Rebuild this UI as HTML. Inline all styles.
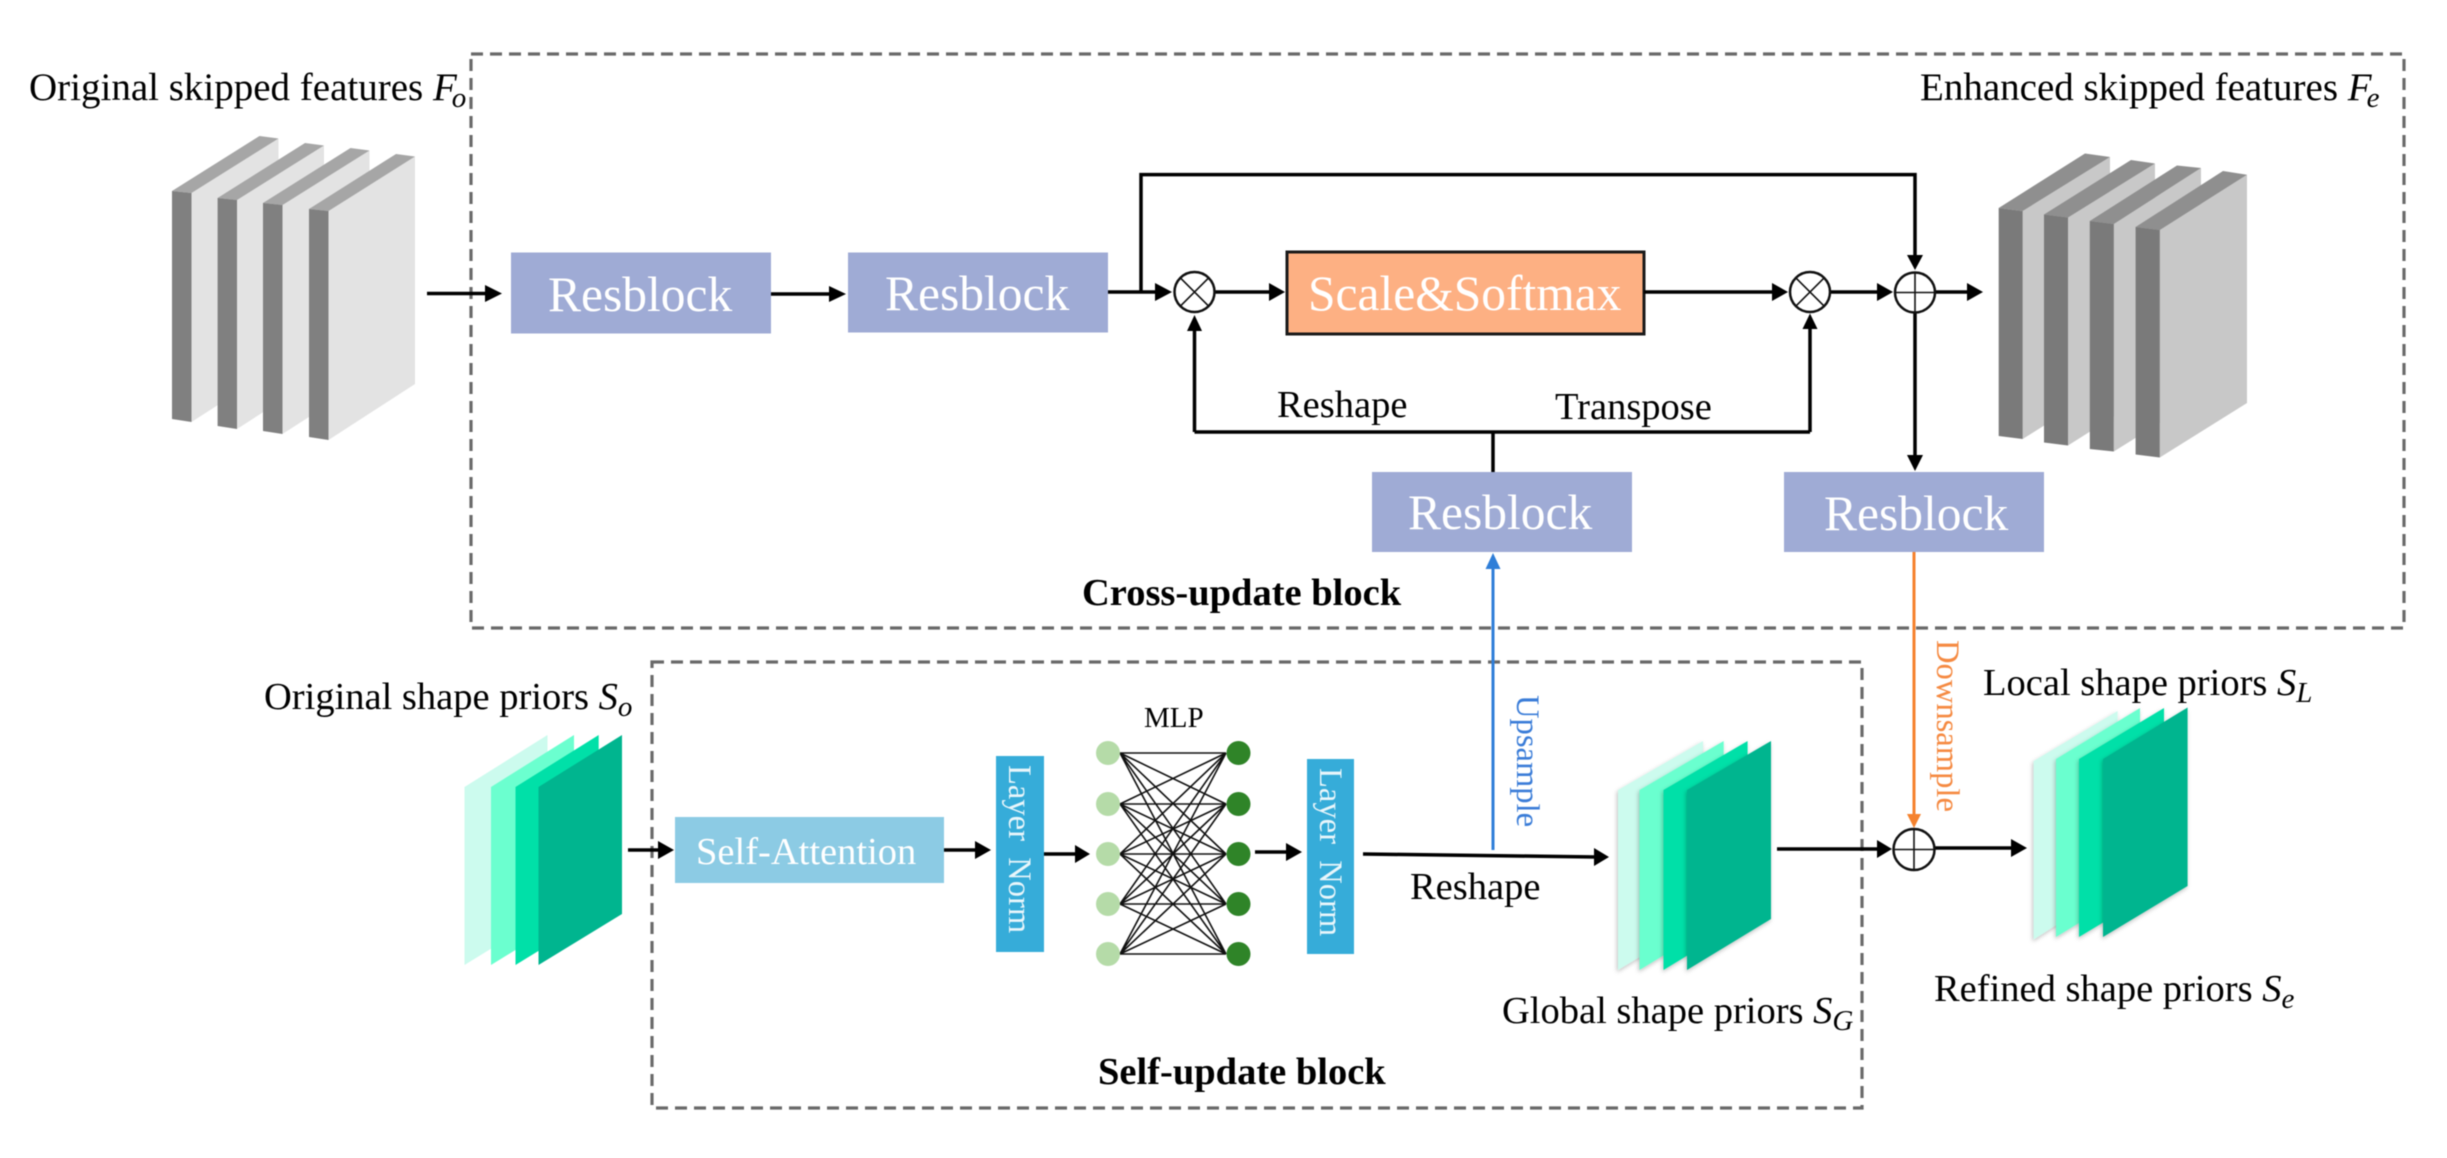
<!DOCTYPE html>
<html>
<head>
<meta charset="utf-8">
<style>
html,body{margin:0;padding:0;background:#fff;width:2447px;height:1158px;overflow:hidden}
svg{display:block;filter:blur(0.5px)}
text{font-family:"Liberation Serif",serif;fill:#000;white-space:pre}
.lab{font-size:39px}
.b{font-size:38.5px;font-weight:bold;fill:#000}
.i{font-style:italic}
.res{font-size:49.5px;fill:#fff}
.s{font-size:38.5px}
.l{stroke:#000;stroke-width:3.5;fill:none}
.c{stroke:#111;stroke-width:2.5;fill:#fff}
.t{stroke:#111;stroke-width:1.6}
.d{fill:none;stroke:#6a6a6a;stroke-width:3.2;stroke-dasharray:12 7}
.ln{font-size:32.6px;fill:#e9f6fb}
</style>
</head>
<body>
<svg width="2447" height="1158" viewBox="0 0 2447 1158" xmlns="http://www.w3.org/2000/svg">
<defs>
<filter id="sh" x="-20%" y="-20%" width="140%" height="140%"><feDropShadow dx="-1" dy="2" stdDeviation="2" flood-color="#000" flood-opacity="0.25"/></filter>
</defs>
<rect width="2447" height="1158" fill="#fff"/>

<!-- dashed boxes -->
<rect class="d" x="471" y="54" width="1933" height="574"/>
<rect class="d" x="652" y="662" width="1210" height="446"/>

<!-- left gray layers -->
<g>
<polygon fill="#e3e3e3" points="191.5,193 278.500,138.500 278.500,366 191.5,422"/><polygon fill="#a6a6a6" points="172,191 259.500,136 278.500,138.500 191.500,193"/><polygon fill="#808080" points="172,191 191.500,193 191.500,422 172,419"/>
<polygon fill="#e3e3e3" points="237,200 324,145.500 324,373 237,429"/><polygon fill="#a6a6a6" points="217.600,198 305,143 324,145.500 237,200"/><polygon fill="#808080" points="217.600,198 237,200 237,429 217.600,426"/>
<polygon fill="#e3e3e3" points="282.500,205 369.500,150.500 369.500,378 282.500,434"/><polygon fill="#a6a6a6" points="263,203 350.500,148 369.500,150.500 282.500,205"/><polygon fill="#808080" points="263,203 282.500,205 282.500,434 263,431"/>
<polygon fill="#e3e3e3" points="328.500,211 415,156.500 415,384 328.500,440"/><polygon fill="#a6a6a6" points="309,209 396,154 415,156.500 328.500,211"/><polygon fill="#808080" points="309,209 328.500,211 328.500,440 309,437"/>
</g>

<!-- right gray layers -->
<g>
<polygon fill="#c8c8c8" points="2022.700,211 2110,157 2110,384 2022.700,439"/><polygon fill="#8f8f8f" points="1998.700,208 2085,153.500 2110,157 2022.700,211"/><polygon fill="#7a7a7a" points="1998.700,208 2022.700,211 2022.700,439 1998.700,436"/>
<polygon fill="#c8c8c8" points="2068,217.500 2155,163.500 2155,390.500 2068,445.500"/><polygon fill="#8f8f8f" points="2044,214.500 2131,160 2155,163.500 2068,217.500"/><polygon fill="#7a7a7a" points="2044,214.500 2068,217.500 2068,445.500 2044,442.500"/>
<polygon fill="#c8c8c8" points="2113.800,224 2201,168 2201,397 2113.800,451.500"/><polygon fill="#8f8f8f" points="2089.800,221 2177,165.500 2201,168 2113.800,224"/><polygon fill="#7a7a7a" points="2089.800,221 2113.800,224 2113.800,451.500 2089.800,449"/>
<polygon fill="#c8c8c8" points="2159.800,230 2247,174.700 2247,403 2159.800,457.500"/><polygon fill="#8f8f8f" points="2135.600,227 2223,171 2247,174.700 2159.800,230"/><polygon fill="#7a7a7a" points="2135.600,227 2159.800,230 2159.800,457.500 2135.600,454.500"/>
</g>

<!-- So layers -->
<polygon fill="#ccfbee" points="464.500,787 547.500,735 547.500,914 464.500,965"/>
<polygon fill="#6bffcf" points="491,787 574,735 574,914 491,965"/>
<polygon fill="#00e0a8" points="515.500,787 598.700,735 598.700,914 515.500,965"/>
<polygon fill="#00b58f" points="538.500,787 622,735 622,914 538.500,965"/>

<!-- Global layers -->
<g filter="url(#sh)"><polygon fill="#ccfbee" points="1618,790 1703,741 1703,919 1618,970"/></g>
<g filter="url(#sh)"><polygon fill="#6bffcf" points="1639.500,790 1723.700,741 1723.700,919 1639.500,970"/></g>
<g filter="url(#sh)"><polygon fill="#00e0a8" points="1663.500,790 1747.600,741 1747.600,919 1663.500,970"/></g>
<g filter="url(#sh)"><polygon fill="#00b58f" points="1687,790 1771,741 1771,919 1687,970"/></g>

<!-- Local layers -->
<g filter="url(#sh)"><polygon fill="#ccfbee" points="2033.600,761 2117.600,711 2117.600,886 2033.600,939.500"/></g>
<g filter="url(#sh)"><polygon fill="#6bffcf" points="2056,759 2140,708 2140,886 2056,937"/></g>
<g filter="url(#sh)"><polygon fill="#00e0a8" points="2079,759 2164,708 2164,886 2079,937"/></g>
<g filter="url(#sh)"><polygon fill="#00b58f" points="2103,759 2187.600,707.500 2187.600,886 2103,937"/></g>

<!-- boxes -->
<rect x="511" y="252.500" width="260" height="81" fill="#9fabd5"/>
<rect x="848" y="252.500" width="260" height="80" fill="#9fabd5"/>
<rect x="1372" y="472" width="260" height="80" fill="#9fabd5"/>
<rect x="1784" y="472" width="260" height="80" fill="#9fabd5"/>
<rect x="1287" y="252" width="357" height="82" fill="#fdb083" stroke="#1a1a1a" stroke-width="3"/>
<rect x="675" y="817" width="269" height="66" fill="#8ccbe4"/>
<rect x="996" y="756" width="48" height="196" fill="#36acd9"/>
<rect x="1307" y="759" width="47" height="195" fill="#36acd9"/>

<!-- box text -->
<text class="res" x="548" y="311">Resblock</text>
<text class="res" x="885" y="310">Resblock</text>
<text class="res" x="1408" y="529">Resblock</text>
<text class="res" x="1824" y="530">Resblock</text>
<text class="res" x="1308" y="310">Scale&amp;Softmax</text>
<text class="s" x="696" y="864" style="fill:#fff">Self-Attention</text>
<text class="ln" transform="translate(1009,765) rotate(90)">Layer  Norm</text>
<text class="ln" transform="translate(1320,768) rotate(90)">Layer  Norm</text>

<!-- MLP connections -->
<path class="t" d="M1120 753L1226 753M1120 753L1226 804M1120 753L1226 854M1120 753L1226 904M1120 753L1226 954M1120 804L1226 753M1120 804L1226 804M1120 804L1226 854M1120 804L1226 904M1120 804L1226 954M1120 854L1226 753M1120 854L1226 804M1120 854L1226 854M1120 854L1226 904M1120 854L1226 954M1120 904L1226 753M1120 904L1226 804M1120 904L1226 854M1120 904L1226 904M1120 904L1226 954M1120 954L1226 753M1120 954L1226 804M1120 954L1226 854M1120 954L1226 904M1120 954L1226 954"/>
<g fill="#b5dba8">
<circle cx="1108" cy="753" r="12"/><circle cx="1108" cy="804" r="12"/><circle cx="1108" cy="854" r="12"/><circle cx="1108" cy="904" r="12"/><circle cx="1108" cy="954" r="12"/>
</g>
<g fill="#2f8428">
<circle cx="1238.500" cy="753" r="12"/><circle cx="1238.500" cy="804" r="12"/><circle cx="1238.500" cy="854" r="12"/><circle cx="1238.500" cy="904" r="12"/><circle cx="1238.500" cy="954" r="12"/>
</g>

<!-- connectors -->
<path class="l" d="M427 293.500H490M771 294H834M1108 292H1158M1141 292V174.600H1915V258M1215 292H1272M1644 292H1775M1830 292H1880M1935 292H1970M1915 313V458"/>
<path class="l" d="M1493 472V432M1194.500 432H1810M1194.500 432V328M1810 432V326"/>
<path class="l" d="M628 850H662M944 850H978M1044 854H1078M1255 852H1290M1363 854L1596 857M1777 849H1880M1934 848H2014"/>
<g fill="#000">
<polygon points="502,293.500 485,285 485,302"/>
<polygon points="846,294 829,286 829,302"/>
<polygon points="1172,292 1155,283 1155,301"/>
<polygon points="1285,292 1269,283 1269,301"/>
<polygon points="1788,292 1772,283 1772,301"/>
<polygon points="1893,292 1877,283 1877,301"/>
<polygon points="1983,292 1967,283 1967,301"/>
<polygon points="1915,270 1907,255 1923,255"/>
<polygon points="1915,471 1907,455 1923,455"/>
<polygon points="1194.500,315 1187,331 1202,331"/>
<polygon points="1810,313.500 1802.500,329 1817.500,329"/>
<polygon points="674,850 658,841 658,859"/>
<polygon points="991,850 975,841 975,859"/>
<polygon points="1090,854 1075,845 1075,863"/>
<polygon points="1302,852 1286,843 1286,861"/>
<polygon points="1609,857 1594,848 1594,866"/>
<polygon points="1892,849 1877,840 1877,858"/>
<polygon points="2027,848 2011,839 2011,857"/>
</g>

<!-- circles -->
<g>
<circle class="c" cx="1194.500" cy="292" r="20"/><path class="t" d="M1180.400 277.900L1208.600 306.100M1208.600 277.900L1180.400 306.100"/>
<circle class="c" cx="1810" cy="292" r="20"/><path class="t" d="M1795.900 277.900L1824.100 306.100M1824.100 277.900L1795.900 306.100"/>
<circle class="c" cx="1915" cy="292.500" r="20"/><path class="t" d="M1895 292.500H1935M1915 272.500V312.500"/>
<circle class="c" cx="1914" cy="849.500" r="20.500"/><path class="t" d="M1893.500 849.500H1934.500M1914 829V870"/>
</g>

<!-- coloured arrows -->
<path d="M1493 566V850" stroke="#2f7ed8" stroke-width="3" fill="none"/>
<polygon points="1493,553 1485.500,569 1500.500,569" fill="#2f7ed8"/>
<path d="M1914 552V816" stroke="#f5822e" stroke-width="3" fill="none"/>
<polygon points="1914,828 1907,814 1921,814" fill="#f5822e"/>
<text transform="translate(1517,695) rotate(90)" style="font-size:32.6px;fill:#3b7dd8">Upsample</text>
<text transform="translate(1937,640) rotate(90)" style="font-size:32.6px;fill:#f58a42">Downsample</text>

<!-- labels -->
<text class="lab" x="29" y="100">Original skipped features <tspan class="i">F</tspan><tspan class="i" font-size="29" dx="-5" dy="7">o</tspan></text>
<text class="lab" x="1920" y="100">Enhanced skipped features <tspan class="i">F</tspan><tspan class="i" font-size="29" dx="-5" dy="7">e</tspan></text>
<text class="s" x="1277" y="417">Reshape</text>
<text class="s" x="1555" y="419">Transpose</text>
<text class="b" x="1082" y="605">Cross-update block</text>
<text class="lab" x="264" y="709" style="font-size:38.500px">Original shape priors <tspan class="i">S</tspan><tspan class="i" font-size="29" dy="7">o</tspan></text>
<text style="font-size:29px" x="1144" y="727">MLP</text>
<text class="s" x="1410" y="899">Reshape</text>
<text class="lab" x="1502" y="1023" style="font-size:38.500px">Global shape priors <tspan class="i">S</tspan><tspan class="i" font-size="29" dy="7">G</tspan></text>
<text class="b" x="1098" y="1084">Self-update block</text>
<text class="lab" x="1983" y="695" style="font-size:38.500px">Local shape priors <tspan class="i">S</tspan><tspan class="i" font-size="29" dy="7">L</tspan></text>
<text class="lab" x="1934" y="1001" style="font-size:38.500px">Refined shape priors <tspan class="i">S</tspan><tspan class="i" font-size="29" dy="7">e</tspan></text>
</svg>
</body>
</html>
